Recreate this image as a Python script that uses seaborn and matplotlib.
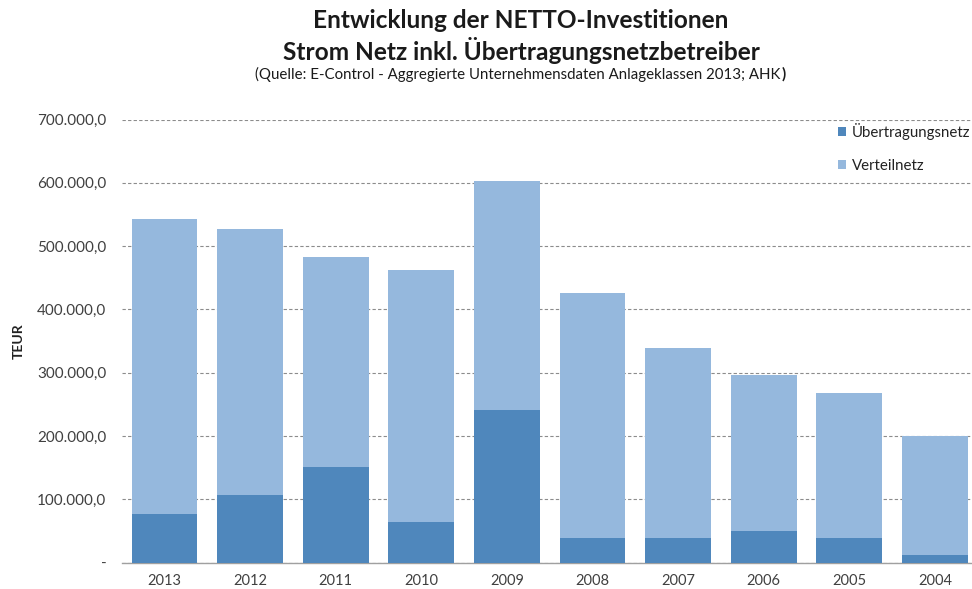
import matplotlib
matplotlib.use("Agg")
import matplotlib.pyplot as plt
import seaborn as sns
import pandas as pd
import numpy as np
from matplotlib.ticker import FixedLocator, FuncFormatter
from matplotlib.patches import Patch

years = ["2013", "2012", "2011", "2010", "2009", "2008", "2007", "2006", "2005", "2004"]
uebertragungsnetz = [77000, 107000, 151500, 64000, 241000, 39500, 39000, 50000, 39000, 12000]
verteilnetz = [466000, 419500, 331800, 398000, 362000, 386500, 300500, 246500, 229500, 188500]

dark_blue = "#4F87BC"
light_blue = "#95B8DD"
grid_gray = "#8C8C8C"
text_gray = "#404040"

df = pd.DataFrame({
    "Jahr": years,
    "Übertragungsnetz": uebertragungsnetz,
    "Verteilnetz": verteilnetz,
})
df["Gesamt"] = df["Übertragungsnetz"] + df["Verteilnetz"]

sns.set_theme(style="white")
plt.rcParams["font.family"] = ["Lato", "DejaVu Sans"]

fig = plt.figure(figsize=(9.72, 5.89), dpi=100)
ax = fig.add_axes([0.1252, 0.0448, 0.8807, 0.7522])

# stacked bars: full height in light blue, lower segment in dark blue
sns.barplot(data=df, x="Jahr", y="Gesamt", color=light_blue, width=0.77,
            saturation=1, linewidth=0, ax=ax, zorder=3)
sns.barplot(data=df, x="Jahr", y="Übertragungsnetz", color=dark_blue, width=0.77,
            saturation=1, linewidth=0, ax=ax, zorder=4)

ax.set_ylim(0, 700000)
ax.set_xlim(-0.5, len(years) - 0.5)
ax.yaxis.set_major_locator(FixedLocator(np.arange(0, 700001, 100000)))


def teur(v, pos):
    if v == 0:
        return "-"
    return f"{v:,.1f}".replace(",", "X").replace(".", ",").replace("X", ".")


ax.yaxis.set_major_formatter(FuncFormatter(teur))
ax.grid(axis="y", linestyle=(0, (3, 2)), color=grid_gray, linewidth=0.8, zorder=1)
ax.grid(axis="x", visible=False)

for s in ["top", "right", "left"]:
    ax.spines[s].set_visible(False)
ax.spines["bottom"].set_color("#A0A0A0")
ax.spines["bottom"].set_linewidth(1.0)

# x ticks sit on category boundaries, labels centred under bars
ax.set_xticks(np.arange(len(years)))
ax.set_xticklabels(years)
ax.set_xticks(np.arange(-0.5, len(years), 1.0), minor=True)
ax.tick_params(axis="x", which="major", length=0, pad=8, labelsize=10.5, labelcolor=text_gray)
ax.tick_params(axis="x", which="minor", length=4, width=1, color="#A0A0A0", direction="out")
ax.tick_params(axis="y", length=0, pad=11, labelsize=11, labelcolor=text_gray)

ax.set_xlabel("")
ax.set_ylabel("TEUR", fontsize=10, fontweight="bold", color="#222222", labelpad=9)

fig.text(0.536, 0.966, "Entwicklung der NETTO-Investitionen", ha="center", va="center",
         fontsize=17.6, fontweight="bold", color="#1a1a1a")
fig.text(0.536, 0.915, "Strom Netz inkl. Übertragungsnetzbetreiber", ha="center", va="center",
         fontsize=17.6, fontweight="bold", color="#1a1a1a")

# source line with a bold closing bracket placed right after the plain text
src = fig.text(0.533, 0.874, "(Quelle: E-Control - Aggregierte Unternehmensdaten Anlageklassen 2013; AHK",
               ha="center", va="center", fontsize=10.8, color="#1a1a1a")
renderer = fig.canvas.get_renderer()
bb = src.get_window_extent(renderer=renderer)
fig.text(bb.x1 / fig.bbox.width + 0.001, 0.874, ")", ha="left", va="center",
         fontsize=11, fontweight="bold", color="#1a1a1a")

handles = [Patch(facecolor=dark_blue, edgecolor="none", label="Übertragungsnetz"),
           Patch(facecolor=light_blue, edgecolor="none", label="Verteilnetz")]
leg = fig.legend(handles=handles, loc="upper left", bbox_to_anchor=(0.856, 0.802),
                 frameon=False, fontsize=10.8, handlelength=0.55, handleheight=0.55,
                 handletextpad=0.35, labelspacing=1.3, borderaxespad=0)
for t in leg.get_texts():
    t.set_color("#222222")

fig.savefig("out.png", dpi=100)
